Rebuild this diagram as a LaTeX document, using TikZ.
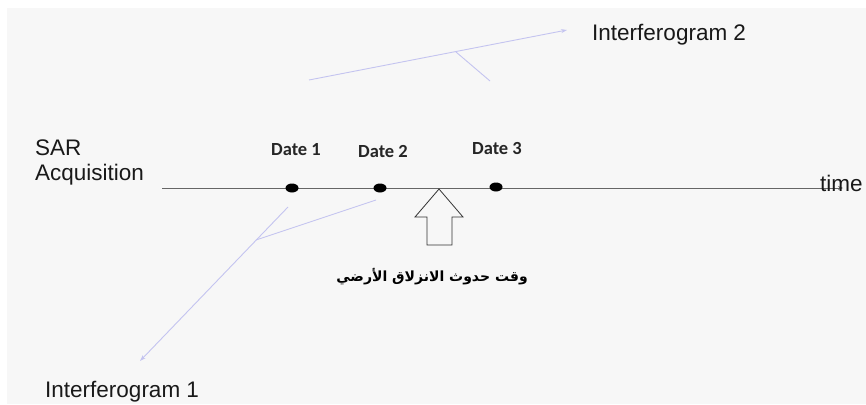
\documentclass[tikz,border=0pt]{standalone}
\usepackage{fontspec}
\setmainfont{Liberation Sans}
\newfontfamily\datefont{Carlito}
\newfontfamily\arabicfont[Script=Arabic]{DejaVu Sans}
\TeXXeTstate=1
\usetikzlibrary{arrows.meta}
\usetikzlibrary{shapes.geometric}

\definecolor{paper}{HTML}{F7F7F7}
\definecolor{ifgline}{RGB}{196,196,240}

\begin{document}
\begin{tikzpicture}[
        x=1pt, y=-1pt,
        every node/.style={inner sep=0pt},
        biglabel/.style={font=\fontsize{22.5}{25}\selectfont, text=black!90},
        datelabel/.style={font=\datefont\bfseries\fontsize{18.5}{20}\selectfont, text=black!85},
        acqdot/.style={ellipse, fill=black, minimum width=13pt, minimum height=9pt},
        ifg/.style={ifgline, line width=0.9pt},
        ifgarrow/.style={ifg, -{Stealth[length=6pt,width=4pt]}}
      ]
        \useasboundingbox (0,0) rectangle (866,404);
        \fill[paper] (7,8) rectangle (866,404);

        % time axis
        \coordinate (t0) at (162,188);
        \coordinate (t1) at (843,188);
        \draw[black!60, line width=1pt, -{Stealth[length=5pt,width=4pt]}] (t0) -- (t1);
        \node[biglabel, anchor=base west] (time) at (820,191) {time};
        \node[biglabel, anchor=base west] (sar) at (35,155) {SAR};
        \node[biglabel, anchor=base west] (acq) at (35,180) {Acquisition};

        % acquisitions
        \node[acqdot] (d1) at (292,188) {};
        \node[acqdot] (d2) at (380,188) {};
        \node[acqdot] (d3) at (496,187) {};
        \node[datelabel] (l1) at (296,150) {Date 1};
        \node[datelabel] (l2) at (383,151) {Date 2};
        \node[datelabel] (l3) at (497,149) {Date 3};

        % landslide event
        \coordinate (quake) at (439,189);
        \draw[black!80, fill=paper, line width=0.8pt] (quake) -- ++(24,28) -- ++(-11,0)
          -- ++(0,28) -- ++(-25,0) -- ++(0,-28) -- ++(-12,0) -- cycle;
        \node[font=\arabicfont\bfseries\fontsize{14}{16}\selectfont] (event) at (432,277)
          {\beginR وقت حدوث الانزلاق الأرضي\endR};

        % interferogram 1
        \coordinate (a1) at (288,207);
        \coordinate (a2) at (376,200);
        \coordinate (j1) at (256,240);
        \coordinate (e1) at (140,361);
        \draw[ifgarrow] (a1) -- (e1);
        \draw[ifg] (a2) -- (j1);
        \node[biglabel, anchor=base west] (ifg1) at (45,397) {Interferogram 1};

        % interferogram 2
        \coordinate (b1) at (309,80);
        \coordinate (b2) at (490,81);
        \coordinate (j2) at (456,52);
        \coordinate (e2) at (567,30);
        \draw[ifgarrow] (b1) -- (e2);
        \draw[ifg] (b2) -- (j2);
        \node[biglabel, anchor=base west] (ifg2) at (592,41) {Interferogram 2};
      \end{tikzpicture}
\end{document}
